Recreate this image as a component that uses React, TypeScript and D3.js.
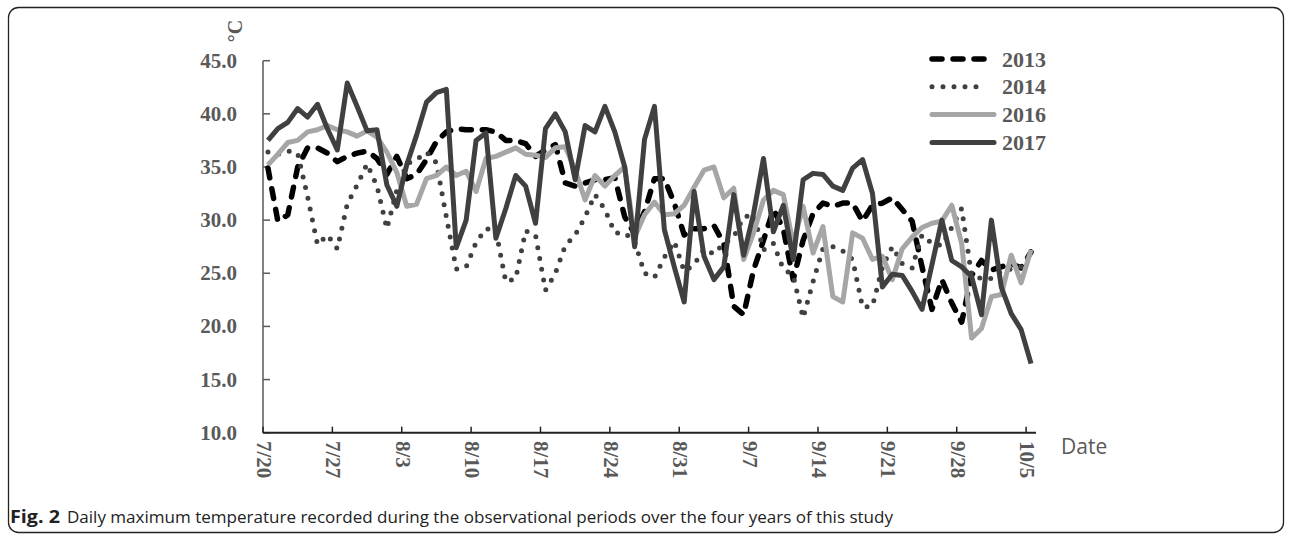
import * as d3 from 'd3'

// Daily max temperature (°C), 7/20 .. 10/5, one value per day
const d2013 = [
  34.9, 29.9, 30.5, 35.0, 36.8, 36.8, 36.3, 35.5, 36.0, 36.3, 36.5, 35.8, 34.3, 36.0,
  33.9, 34.3, 35.7, 37.4, 38.3, 38.6, 38.5, 38.5, 38.5, 38.3, 37.5, 37.5, 37.2, 36.0,
  36.6, 37.1, 33.5, 33.2, 33.5, 33.8, 33.8, 34.0, 30.3, 28.7, 30.8, 33.9, 33.9, 31.6,
  28.6, 29.2, 29.2, 29.5, 27.8, 21.9, 21.1, 25.3, 28.1, 31.0, 29.2, 24.4, 28.1, 30.6,
  31.6, 31.3, 31.6, 31.6, 29.9, 31.4, 31.6, 32.1, 31.0, 29.9, 25.6, 21.6, 24.4, 22.2,
  20.4, 24.8, 26.2, 25.3, 25.6, 25.9, 25.5, 27.0,
]
const d2014 = [
  36.4, 36.2, 36.5, 36.3, 32.2, 27.7, 28.6, 27.3, 31.5, 33.3, 35.3, 33.2, 29.2, 32.8,
  35.3, 35.7, 36.4, 35.4, 30.3, 25.4, 25.6, 27.9, 29.2, 29.0, 24.2, 24.5, 29.0, 28.6,
  23.4, 25.0, 27.6, 28.6, 30.3, 32.4, 31.0, 28.8, 28.8, 28.0, 25.0, 24.6, 26.5, 28.0,
  25.2, 25.8, 27.3, 26.8, 27.8, 28.4, 30.3, 30.5, 27.2, 27.8, 25.4, 24.8, 20.8, 24.2,
  27.3, 27.5, 27.1, 26.3, 21.8, 21.9, 25.6, 27.5, 25.9, 25.5, 28.6, 27.8, 27.6, 29.3,
  31.1, 24.8, 24.5, 24.5, 25.2, 25.4, 25.6, 26.8,
]
const d2016 = [
  35.2, 36.2, 37.3, 37.5, 38.3, 38.5, 38.9, 38.5, 38.3, 37.9, 38.4, 37.8, 36.4, 34.5,
  31.3, 31.5, 33.9, 34.2, 35.0, 34.2, 34.6, 32.7, 35.8, 36.0, 36.4, 36.8, 36.2, 36.1,
  35.9, 36.8, 36.9, 34.7, 31.9, 34.2, 33.2, 34.2, 35.0, 28.4, 30.5, 31.7, 30.5, 30.6,
  31.4, 33.1, 34.7, 35.0, 32.1, 33.0, 26.3, 28.8, 31.9, 32.8, 32.4, 27.8, 31.3, 26.9,
  29.4, 22.8, 22.3, 28.8, 28.3, 26.3, 26.6, 24.4, 27.3, 28.4, 29.3, 29.7, 29.9, 31.4,
  27.8, 18.9, 19.8, 22.8, 23.0, 26.7, 24.1, 27.2,
]
const d2017 = [
  37.5, 38.6, 39.2, 40.5, 39.7, 40.9, 38.6, 36.6, 42.9, 40.7, 38.4, 38.5, 33.3, 31.3,
  35.2, 38.0, 41.1, 42.0, 42.3, 27.4, 30.0, 37.5, 38.2, 28.3, 31.1, 34.2, 33.2, 29.7,
  38.6, 40.0, 38.3, 33.8, 38.9, 38.3, 40.7, 38.3, 35.0, 27.5, 37.6, 40.7, 29.1, 25.6,
  22.3, 32.7, 26.6, 24.4, 25.6, 32.4, 26.7, 30.6, 35.8, 28.9, 31.4, 26.3, 33.8, 34.4,
  34.3, 33.2, 32.8, 34.9, 35.7, 32.5, 23.7, 24.9, 24.8, 23.3, 21.6, 25.8, 30.0, 26.2,
  25.6, 24.7, 21.1, 30.0, 23.7, 21.2, 19.7, 16.5,
]

const tickLabels = ['7/20', '7/27', '8/3', '8/10', '8/17', '8/24', '8/31', '9/7', '9/14', '9/21', '9/28', '10/5']
const yTicks = [10, 15, 20, 25, 30, 35, 40, 45]

const series = [
  { name: '2013', values: d2013, color: '#000000', width: 5.5, dash: '10 11' },
  { name: '2014', values: d2014, color: '#404040', width: 5, dash: '0 11' },
  { name: '2016', values: d2016, color: '#a6a6a6', width: 5, dash: null },
  { name: '2017', values: d2017, color: '#404040', width: 5, dash: null },
]

const serif = '"Liberation Serif", "Times New Roman", serif'
const sans = '"Open Sans", "Noto Sans", sans-serif'
const labelGray = '#595959'

export default function App() {
  const width = 1292, height = 534
  const x = d3.scaleLinear().domain([0, 78]).range([263, 1036])
  const y = d3.scaleLinear().domain([10, 45]).range([432.7, 60.7])

  const line = d3.line<number>()
    .x((_, i) => x(i + 0.5))
    .y(d => y(d))

  return (
    <svg width={width} height={height} style={{ position: 'absolute', left: 0, top: 0, background: '#fff' }}>
      {/* frame */}
      <rect x={8.5} y={7.5} width={1275} height={525} rx={10} fill="none" stroke="#222" strokeWidth={1.3} />

      {/* y axis */}
      <line x1={x(0)} x2={x(0)} y1={y(10)} y2={y(45)} stroke={labelGray} strokeWidth={1.5} />
      {yTicks.map(t => (
        <g key={t}>
          <line x1={x(0)} x2={x(0) + 7} y1={y(t)} y2={y(t)} stroke={labelGray} strokeWidth={1.5} />
          <text x={237} y={y(t)} textAnchor="end" dominantBaseline="central"
            fontFamily={serif} fontWeight="bold" fontSize={21} fill={labelGray}>
            {t.toFixed(1)}
          </text>
        </g>
      ))}
      <text transform="translate(235,31) rotate(-90)" textAnchor="middle" dominantBaseline="central"
        fontFamily={serif} fontWeight="bold" fontSize={20} fill={labelGray}>°C</text>

      {/* x axis */}
      <line x1={x(0)} x2={x(78)} y1={y(10)} y2={y(10)} stroke="#222" strokeWidth={2} />
      {tickLabels.map((lab, k) => (
        <g key={lab}>
          <line x1={x(k * 7)} x2={x(k * 7)} y1={y(10)} y2={y(10) - 6} stroke="#222" strokeWidth={1.5} />
          <text transform={`translate(${x(k * 7) + 1},441) rotate(90)`} dominantBaseline="central"
            fontFamily={serif} fontWeight="bold" fontSize={21} fill={labelGray}>
            {lab}
          </text>
        </g>
      ))}
      <text x={1061} y={454} fontFamily={sans} fontSize={21} fill={labelGray}>Date</text>

      {/* series */}
      {series.map(s => (
        <path key={s.name} d={line(s.values) || ''} fill="none" stroke={s.color}
          strokeWidth={s.width} strokeDasharray={s.dash || undefined}
          strokeLinecap={s.dash ? 'round' : 'butt'} strokeLinejoin="round" />
      ))}

      {/* legend */}
      {series.map((s, i) => {
        const ly = 59 + i * 27.8
        return (
          <g key={s.name}>
            <line x1={932} x2={s.dash === '0 11' ? 987 : 994} y1={ly} y2={ly}
              stroke={s.color} strokeWidth={s.width} strokeDasharray={s.dash || undefined}
              strokeLinecap="round" />
            <text x={1002} y={ly} dominantBaseline="central" fontFamily={serif}
              fontWeight="bold" fontSize={22} fill={labelGray}>{s.name}</text>
          </g>
        )
      })}

      {/* caption */}
      <text x={10} y={523} fontFamily={sans} fontSize={17} fontWeight="bold" fill="#222"
        textLength={50} lengthAdjust="spacingAndGlyphs">Fig. 2</text>
      <text x={67} y={523} fontFamily={sans} fontSize={16} fill="#222"
        textLength={826} lengthAdjust="spacingAndGlyphs">
        Daily maximum temperature recorded during the observational periods over the four years of this study
      </text>
    </svg>
  )
}
